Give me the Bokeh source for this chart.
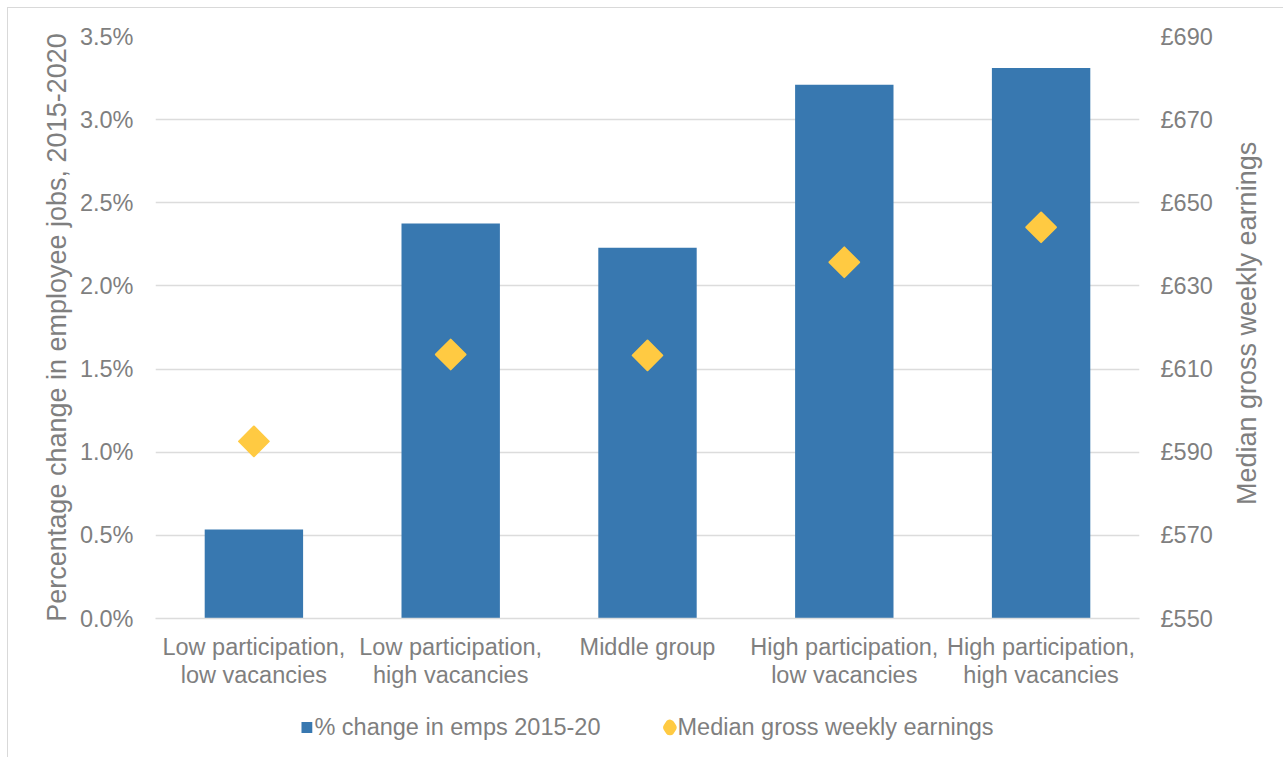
import numpy as np
from bokeh.plotting import figure
from bokeh.layouts import column, row
from bokeh.models import (ColumnDataSource, FactorRange, Range1d, LinearAxis, FixedTicker,
                          PrintfTickFormatter, Legend, LegendItem, Label)
from bokeh.embed import file_html
from bokeh.resources import INLINE

# ---- data ----
categories = ["Low participation,\nlow vacancies", "Low participation,\nhigh vacancies",
              "Middle group", "High participation,\nlow vacancies",
              "High participation,\nhigh vacancies"]
pct_change = [0.535, 2.375, 2.23, 3.21, 3.31]
earnings = [592.6, 613.5, 613.3, 635.7, 644.1]
left_ticks = [0.0, 0.5, 1.0, 1.5, 2.0, 2.5, 3.0, 3.5]
right_ticks = [550, 570, 590, 610, 630, 650, 670, 690]
bar_label = "% change in emps 2015-20"
marker_label = "Median gross weekly earnings"
left_title = "Percentage change in employee jobs, 2015-2020"
right_title = "Median gross weekly earnings"

BLUE = "#3878B0"
GOLD = "#FFCA42"
GRAY = "#7F7F7F"
GRID = "#DCDCDC"
FONT = "Liberation Sans"

src = ColumnDataSource(dict(cat=categories, pct=pct_change, earn=earnings))

p = figure(width=1225, height=688, x_range=FactorRange(*categories),
           y_range=Range1d(0, 3.5), output_backend="svg", toolbar_location=None,
           min_border_left=147, min_border_right=94, min_border_top=28,
           min_border_bottom=78)
p.extra_y_ranges = {"right": Range1d(550, 690)}
p.outline_line_color = None
p.background_fill_color = "white"
p.border_fill_color = "white"

p.vbar(x="cat", top="pct", width=0.5, source=src, color=BLUE, line_color=None)
p.scatter(x="cat", y="earn", source=src, y_range_name="right", marker="square",
          size=21, angle=np.pi / 4, fill_color=GOLD, line_color=GOLD, line_width=2,
          line_join="round")

# axes
yl = p.yaxis[0]
yl.ticker = FixedTicker(ticks=left_ticks)
yl.formatter = PrintfTickFormatter(format="%.1f%%")
yl.axis_line_color = None
yl.major_tick_line_color = None
yl.minor_tick_line_color = None
yl.major_tick_out = 0
yl.minor_tick_out = 0
yl.major_label_standoff = 22
yl.major_label_text_font = FONT
yl.major_label_text_font_size = "23.5px"
yl.major_label_text_color = GRAY
yl.axis_label = left_title
yl.axis_label_text_font = FONT
yl.axis_label_text_font_size = "27px"
yl.axis_label_text_font_style = "normal"
yl.axis_label_text_color = GRAY
yl.axis_label_standoff = 5

yr = LinearAxis(y_range_name="right", ticker=FixedTicker(ticks=right_ticks),
                formatter=PrintfTickFormatter(format="£%d"))
yr.axis_line_color = None
yr.major_tick_line_color = None
yr.minor_tick_line_color = None
yr.major_tick_out = 0
yr.minor_tick_out = 0
yr.major_label_standoff = 21
yr.major_label_text_font = FONT
yr.major_label_text_font_size = "23.5px"
yr.major_label_text_color = GRAY
p.add_layout(yr, "right")

xa = p.xaxis[0]
xa.axis_line_color = GRID
xa.axis_line_width = 1.5
xa.major_tick_line_color = None
xa.minor_tick_line_color = None
xa.major_tick_out = 0
xa.minor_tick_out = 0
xa.major_label_standoff = 15
xa.major_label_text_font = FONT
xa.major_label_text_font_size = "23.5px"
xa.major_label_text_color = GRAY
xa.major_label_text_line_height = 1.1

p.xgrid.grid_line_color = None
p.ygrid.grid_line_color = GRID
p.ygrid.grid_line_width = 1.5
p.ygrid.ticker = FixedTicker(ticks=left_ticks)

# narrow strip carrying the right-hand axis title (reads bottom to top)
tfig = figure(width=50, height=688, x_range=Range1d(0, 1), y_range=Range1d(0, 1),
              output_backend="svg", toolbar_location=None, x_axis_location=None,
              y_axis_location=None, min_border=0)
tfig.outline_line_color = None
tfig.xgrid.grid_line_color = None
tfig.ygrid.grid_line_color = None
tfig.add_layout(Label(x=0.26, y=0.507, text=right_title, angle=np.pi / 2,
                      text_align="center", text_baseline="middle", text_font=FONT,
                      text_font_size="27px", text_color=GRAY))

# separate strip holding the legend (its data glyphs fall outside its view)
leg = figure(width=1275, height=61, x_range=FactorRange(*categories),
             y_range=Range1d(-2, -1), output_backend="svg", toolbar_location=None,
             x_axis_location=None, y_axis_location=None, min_border=0)
leg.outline_line_color = None
leg.xgrid.grid_line_color = None
leg.ygrid.grid_line_color = None
r_sq = leg.scatter(x="cat", y="pct", source=src, marker="square", size=7,
                   fill_color=BLUE, line_color=BLUE, line_width=4, line_join="miter")
r_di = leg.scatter(x="cat", y="pct", source=src, marker="diamond", size=7,
                   fill_color=GOLD, line_color=GOLD, line_width=9, line_join="round")
legend = Legend(items=[LegendItem(label=bar_label, renderers=[r_sq], index=0),
                       LegendItem(label=marker_label, renderers=[r_di], index=0)],
                location="center", orientation="horizontal", glyph_width=17,
                glyph_height=17, label_height=27, label_standoff=0, spacing=60,
                padding=0, margin=0, border_line_color=None, background_fill_alpha=0,
                label_text_font=FONT, label_text_font_size="23.5px",
                label_text_color=GRAY)
leg.add_layout(legend, "center")

layout = column(row(p, tfig), leg, margin=(7, 0, 0, 7),
                styles={"border-left": "1px solid #D9D9D9", "border-top": "1px solid #D9D9D9"})

open("out.html", "w").write(file_html(layout, INLINE))
